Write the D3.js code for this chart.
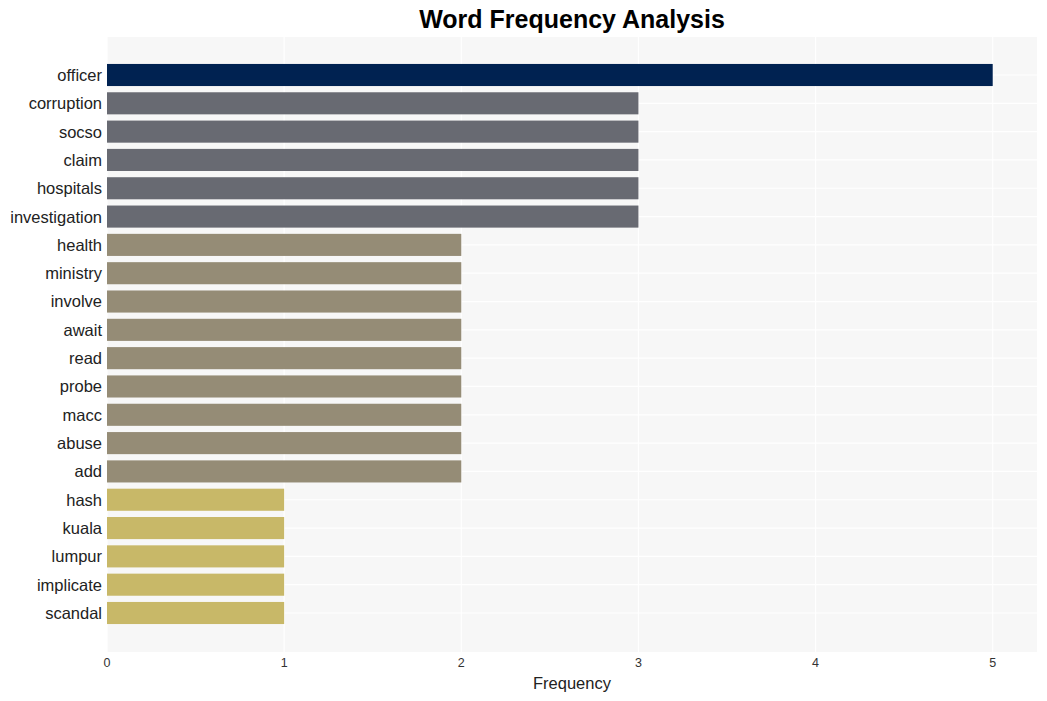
<!DOCTYPE html>
<html><head><meta charset="utf-8">
<script src="https://cdn.jsdelivr.net/npm/d3@7"></script>
<style>body{margin:0;background:#fff;font-family:"Liberation Sans",Arial,sans-serif;}</style>
</head><body><svg id="c" width="1047" height="701"></svg>
<script>
const words = ["officer","corruption","socso","claim","hospitals","investigation","health","ministry","involve","await","read","probe","macc","abuse","add","hash","kuala","lumpur","implicate","scandal"];
const freqs = [5,3,3,3,3,3,2,2,2,2,2,2,2,2,2,1,1,1,1,1];
const colorByFreq = {5:"#002251",3:"#686a72",2:"#958c76",1:"#c8b868"};
const xTicks = [0,1,2,3,4,5];

const svg = d3.select("#c");
const L=107, R=1037, T=37, B=652;
const x = d3.scaleLinear().domain([0,5.25]).range([L,R]);
const step = 28.32;
const y = d3.scaleBand().domain(words).range([75-step/2, 613+step/2]).paddingInner(0.22).paddingOuter(0.11);

svg.append("rect").attr("x",L).attr("y",T).attr("width",R-L).attr("height",B-T).attr("fill","#f7f7f7");
svg.append("g").selectAll("line").data(xTicks).join("line")
  .attr("x1",d=>x(d)).attr("x2",d=>x(d)).attr("y1",T).attr("y2",B)
  .attr("stroke","#ffffff").attr("stroke-width",1.2);
svg.append("g").selectAll("line").data(words).join("line")
  .attr("x1",L).attr("x2",R).attr("y1",d=>y(d)+y.bandwidth()/2).attr("y2",d=>y(d)+y.bandwidth()/2)
  .attr("stroke","#ffffff").attr("stroke-width",1.2);

svg.append("g").selectAll("rect").data(words).join("rect")
  .attr("x",x(0)).attr("y",d=>y(d)).attr("height",y.bandwidth())
  .attr("width",(d,i)=>x(freqs[i])-x(0))
  .attr("fill",(d,i)=>colorByFreq[freqs[i]]);

svg.append("g").selectAll("text").data(words).join("text")
  .attr("x",L-5).attr("y",d=>y(d)+y.bandwidth()/2).attr("dy","0.36em")
  .attr("text-anchor","end").attr("font-size",16.5).attr("fill","#222").text(d=>d);

svg.append("g").selectAll("text").data(xTicks).join("text")
  .attr("x",d=>x(d)).attr("y",667).attr("text-anchor","middle")
  .attr("font-size",12.5).attr("fill","#333").text(d=>d);

svg.append("text").attr("x",(L+R)/2).attr("y",689).attr("text-anchor","middle")
  .attr("font-size",16.5).attr("fill","#222").text("Frequency");
svg.append("text").attr("x",572).attr("y",28).attr("text-anchor","middle")
  .attr("font-size",25).attr("font-weight","bold").attr("fill","#000").text("Word Frequency Analysis");
</script></body></html>
